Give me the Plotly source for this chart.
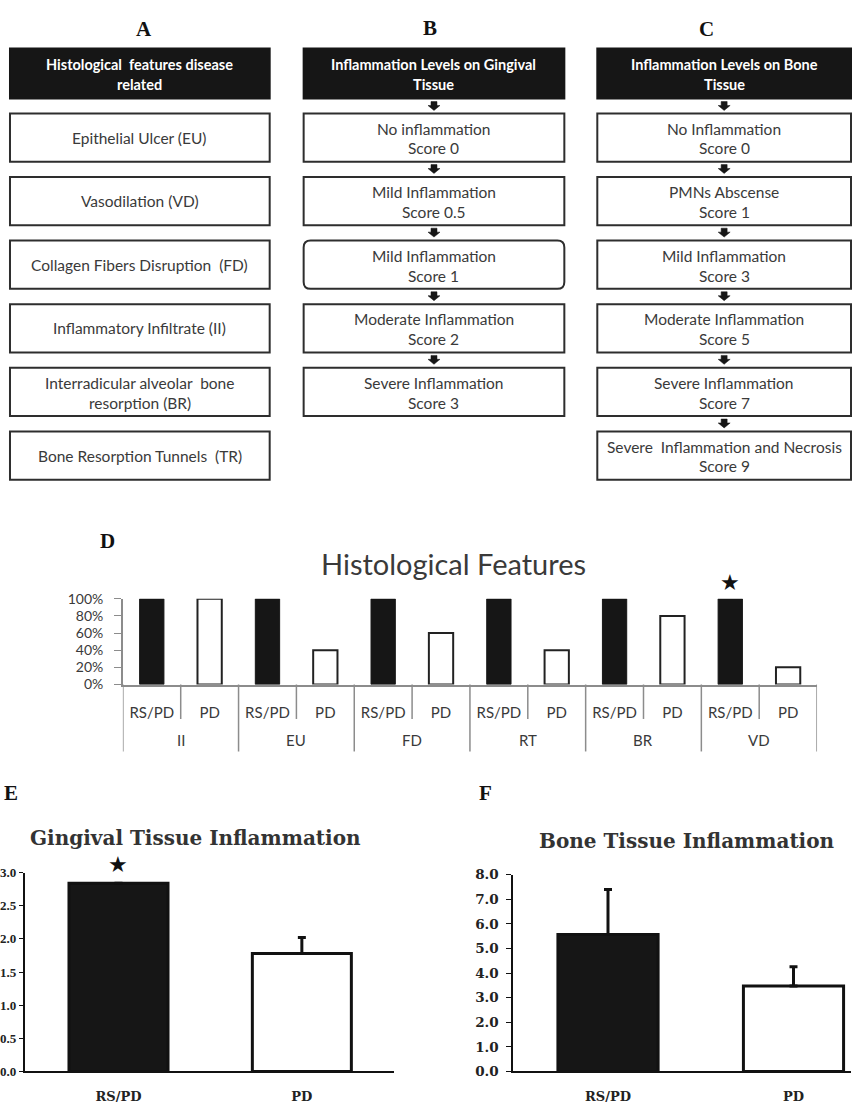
import plotly.graph_objects as go

W, H = 854, 1111


def px(x):
    return x / W


def py(y):
    return 1 - y / H


# ---------------- data ----------------
a_header = ["Histological  features disease", "related"]
a_items = [["Epithelial Ulcer (EU)"], ["Vasodilation (VD)"], ["Collagen Fibers Disruption  (FD)"],
           ["Inflammatory Infiltrate (II)"], ["Interradicular alveolar  bone", "resorption (BR)"],
           ["Bone Resorption Tunnels  (TR)"]]
b_header = ["Inflammation Levels on Gingival", "Tissue"]
b_items = [["No inflammation", "Score 0"], ["Mild Inflammation", "Score 0.5"], ["Mild Inflammation", "Score 1"],
           ["Moderate Inflammation", "Score 2"], ["Severe Inflammation", "Score 3"]]
c_header = ["Inflammation Levels on Bone", "Tissue"]
c_items = [["No Inflammation", "Score 0"], ["PMNs Abscense", "Score 1"], ["Mild Inflammation", "Score 3"],
           ["Moderate Inflammation", "Score 5"], ["Severe Inflammation", "Score 7"],
           ["Severe  Inflammation and Necrosis", "Score 9"]]

features = ["II", "EU", "FD", "RT", "BR", "VD"]
groups = ["RS/PD", "PD"]
rs_pd_pct = [100, 100, 100, 100, 100, 100]
pd_pct = [100, 40, 60, 40, 80, 20]
pct_ticks = [0, 20, 40, 60, 80, 100]

gingival_mean = [2.84, 1.78]
gingival_err = [0.0, 0.24]
bone_mean = [5.56, 3.47]
bone_err = [1.83, 0.78]

# ---------------- styles ----------------
BOX_FONT = dict(family="Lato", size=15.5, color="#3a3a3a")
HEAD_FONT = dict(family="Lato", size=14.5, color="white")
SERIF_B = "DejaVu Serif"
BLACK = "#161616"

fig = go.Figure()
shapes = []
annotations = []


def text(x, y, s, font, xanchor="center"):
    annotations.append(dict(x=px(x), y=py(y), xref="paper", yref="paper", text=s, showarrow=False,
                            font=font, xanchor=xanchor, yanchor="middle"))


def box(x0, x1, y0, y1, fill="white", line="#2e2e2e", rounded=False):
    if rounded:
        rx, ry = 7 / W, 7 / H
        X0, X1, Y0, Y1 = px(x0), px(x1), py(y1), py(y0)
        path = (f"M {X0+rx},{Y0} L {X1-rx},{Y0} Q {X1},{Y0} {X1},{Y0+ry} L {X1},{Y1-ry} "
                f"Q {X1},{Y1} {X1-rx},{Y1} L {X0+rx},{Y1} Q {X0},{Y1} {X0},{Y1-ry} "
                f"L {X0},{Y0+ry} Q {X0},{Y0} {X0+rx},{Y0} Z")
        shapes.append(dict(type="path", path=path, xref="paper", yref="paper",
                           fillcolor=fill, line=dict(color=line, width=2)))
    else:
        shapes.append(dict(type="rect", x0=px(x0), x1=px(x1), y0=py(y1), y1=py(y0), xref="paper",
                           yref="paper", fillcolor=fill, line=dict(color=line, width=2)))


def arrow(cx, gy):
    pts = [(cx - 3, gy + 3), (cx + 3, gy + 3), (cx + 3, gy + 7), (cx + 6, gy + 7), (cx, gy + 12),
           (cx - 6, gy + 7), (cx - 3, gy + 7)]
    path = "M " + " L ".join(f"{px(a)},{py(b)}" for a, b in pts) + " Z"
    shapes.append(dict(type="path", path=path, xref="paper", yref="paper", fillcolor=BLACK,
                       line=dict(color=BLACK, width=0.5)))


HEAD_TOP, HEAD_BOT = 40, 91
ITEM_TOP0, ITEM_PITCH, ITEM_H = 106, 64.6, 49


def column(x0, x1, header, items, arrows, rounded_idx=()):
    cx = (x0 + x1) / 2
    box(x0, x1, HEAD_TOP, HEAD_BOT, fill=BLACK, line=BLACK)
    hc = (HEAD_TOP + HEAD_BOT) / 2
    text(cx, hc - 9.5, f"<b>{header[0]}</b>", HEAD_FONT)
    text(cx, hc + 11, f"<b>{header[1]}</b>", HEAD_FONT)
    prev_bot = HEAD_BOT
    for i, lines in enumerate(items):
        top = ITEM_TOP0 + i * ITEM_PITCH
        bot = top + ITEM_H
        if arrows:
            arrow(cx, prev_bot)
        box(x0, x1, top, bot, rounded=(i in rounded_idx))
        c = (top + bot) / 2
        if len(lines) == 1:
            text(cx, c, lines[0], BOX_FONT)
        else:
            text(cx, c - 9, lines[0], BOX_FONT)
            text(cx, c + 11, lines[1], BOX_FONT)
        prev_bot = bot


column(9, 269, a_header, a_items, arrows=False)
column(303, 564, b_header, b_items, arrows=True, rounded_idx=(2,))
column(597, 851, c_header, c_items, arrows=True)

# panel letters
LET = dict(family="Liberation Serif", size=21, color="#111")
for s, x, y in [("A", 143, 20), ("B", 430, 19), ("C", 706, 20), ("D", 107, 540), ("E", 10, 796),
                ("F", 485, 796)]:
    text(x, y, f"<b>{s}</b>", LET)

# ---------------- panel D ----------------
xs_rs = [2 * i for i in range(len(features))]
xs_pd = [2 * i + 1 for i in range(len(features))]
fig.add_trace(go.Bar(x=xs_rs, y=rs_pd_pct, width=0.42, xaxis="x", yaxis="y", name="RS/PD",
                     marker=dict(color=BLACK, line=dict(color=BLACK, width=1))))
fig.add_trace(go.Bar(x=xs_pd, y=pd_pct, width=0.42, xaxis="x", yaxis="y", name="PD",
                     marker=dict(color="white", line=dict(color="#222", width=2))))

GRAY = "#8c8c8c"
D_FONT = dict(family="Lato", size=15, color="#3a3a3a")
for i, f in enumerate(features):
    annotations.append(dict(x=2 * i + 0.5, y=py(742), xref="x", yref="paper", text=f, showarrow=False,
                            font=D_FONT, yanchor="middle"))
    shapes.append(dict(type="line", x0=2 * i - 0.5, x1=2 * i - 0.5, y0=py(686), y1=py(754), xref="x",
                       yref="paper", line=dict(color=GRAY, width=1.5)))
    shapes.append(dict(type="line", x0=2 * i + 0.5, x1=2 * i + 0.5, y0=py(686), y1=py(721), xref="x",
                       yref="paper", line=dict(color=GRAY, width=1.5)))
shapes.append(dict(type="line", x0=11.5, x1=11.5, y0=py(686), y1=py(754), xref="x", yref="paper",
                   line=dict(color=GRAY, width=1.5)))

annotations.append(dict(x=xs_rs[5], y=rs_pd_pct[5], xref="x", yref="y", text="★", showarrow=False,
                        yanchor="bottom", yshift=2, font=dict(family="DejaVu Sans", size=22, color="#111")))
text(453, 563, "Histological Features", dict(family="Lato", size=29, color="#3a3a3a"))

# ---------------- panel E ----------------
fig.add_trace(go.Bar(x=groups, y=gingival_mean, width=0.54, xaxis="x2", yaxis="y2", name="Gingival",
                     marker=dict(color=[BLACK, "white"], line=dict(color="#111", width=3)),
                     error_y=dict(type="data", array=gingival_err, arrayminus=[0, 0], symmetric=False,
                                  visible=True, color="#111", thickness=3, width=4)))
annotations.append(dict(x=groups[0], y=gingival_mean[0], xref="x2", yref="y2", text="★", showarrow=False,
                        yanchor="bottom", yshift=4, font=dict(family="DejaVu Sans", size=22, color="#111")))
text(195, 842, "<b>Gingival Tissue Inflammation</b>", dict(family=SERIF_B, size=20, color="#333"))

# ---------------- panel F ----------------
fig.add_trace(go.Bar(x=groups, y=bone_mean, width=0.54, xaxis="x3", yaxis="y3", name="Bone",
                     marker=dict(color=[BLACK, "white"], line=dict(color="#111", width=3)),
                     error_y=dict(type="data", array=bone_err, arrayminus=[0, 0], symmetric=False,
                                  visible=True, color="#111", thickness=3, width=4)))
text(687, 845, "<b>Bone Tissue Inflammation</b>", dict(family=SERIF_B, size=20, color="#333"))

TICK_SERIF = dict(family=SERIF_B, size=13.5, color="#222", weight="bold")
TICK_SERIF_E = dict(family="Liberation Serif", size=13, color="#222", weight="bold")
XLAB_SERIF = dict(family=SERIF_B, size=13, color="#222", weight="bold")

fig.update_layout(
    width=W, height=H, margin=dict(l=0, r=0, t=0, b=0), paper_bgcolor="white", plot_bgcolor="white",
    showlegend=False, barmode="overlay",
    xaxis=dict(domain=[px(122), px(817)], range=[-0.5, 11.5], tickvals=xs_rs + xs_pd, anchor="y",
               ticktext=[groups[0]] * 6 + [groups[1]] * 6, showline=True, linecolor=GRAY, linewidth=1.5,
               ticks="", showgrid=False, zeroline=False, ticklabelstandoff=14, tickfont=D_FONT),
    yaxis=dict(domain=[py(686), py(599)], range=[0, 100], tickvals=pct_ticks, anchor="x",
               ticktext=[f"{v}%" for v in pct_ticks], showline=True, linecolor=GRAY, linewidth=1.5,
               ticks="outside", ticklen=7, tickcolor=GRAY, showgrid=False, zeroline=False,
               ticklabelstandoff=8, tickfont=dict(family="Lato", size=14, color="#3a3a3a")),
    xaxis2=dict(domain=[px(24), px(393)], range=[-0.51, 1.5], type="category", anchor="y2", showline=True,
                linecolor="#111", linewidth=2, ticks="", showgrid=False, ticklabelstandoff=12,
                tickfont=XLAB_SERIF),
    yaxis2=dict(domain=[py(1079), py(877)], range=[0, 3], dtick=0.5, tickformat=".1f", anchor="x2",
                showline=True, linecolor="#111", linewidth=2, ticks="outside", ticklen=4, tickcolor="#111",
                showgrid=False, zeroline=False, ticklabelstandoff=0, tickfont=TICK_SERIF_E),
    xaxis3=dict(domain=[px(513), px(851)], range=[-0.51, 1.31], type="category", anchor="y3", showline=True,
                linecolor="#111", linewidth=2, ticks="", showgrid=False, ticklabelstandoff=12,
                tickfont=XLAB_SERIF),
    yaxis3=dict(domain=[py(1079), py(879)], range=[0, 8], dtick=1, tickformat=".1f", anchor="x3",
                showline=True, linecolor="#111", linewidth=2, ticks="outside", ticklen=5, tickcolor="#111",
                showgrid=False, zeroline=False, ticklabelstandoff=5, tickfont=TICK_SERIF),
    shapes=shapes, annotations=annotations,
)

fig.write_html("out.html", config={"displayModeBar": False},
               post_script="document.body.style.margin='0';document.body.style.overflow='hidden';")
